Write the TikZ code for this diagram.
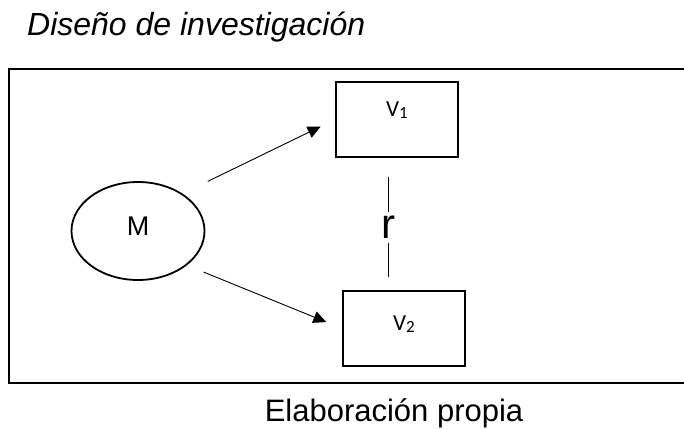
\documentclass[tikz,border=0pt]{standalone}
\usepackage{fontspec}
\setmainfont{Liberation Sans}
\newfontfamily\boxfont{Carlito}
\usetikzlibrary{arrows.meta,shapes.geometric}
\newcommand{\varname}[2]{#1{\fontsize{17}{18}\selectfont\raisebox{-2.6pt}{#2}}}
\tikzset{
  varbox/.style={draw, line width=1.8pt, minimum width=122pt, minimum height=75pt, inner sep=0pt,
    font=\boxfont\fontsize{23}{26}\selectfont},
  flecha/.style={-{Triangle[length=13pt,width=12pt]}, line width=0.9pt},
  enlace/.style={line width=0.9pt}
}
\begin{document}
\begin{tikzpicture}[x=1pt,y=-1pt]
  \useasboundingbox (0,0) rectangle (684,428);
  \node[anchor=base west, inner sep=0pt, font=\itshape\fontsize{32}{36}\selectfont] (titulo) at (27,36) {Diseño de investigación};
  \draw[line width=2.2pt] (9,69) rectangle (700,383);
  \node[ellipse, draw, line width=1.8pt, minimum width=133pt, minimum height=98pt, inner sep=0pt,
    text depth=10pt, font=\fontsize{27}{30}\selectfont] (M) at (138,231) {M};
  \node[varbox, text depth=21pt] (V1) at (397,119.5) {\varname{V}{1}};
  \node[varbox, text depth=11pt] (V2) at (404,328.5) {\varname{V}{2}};
  \node[inner sep=0pt, minimum height=31pt, font=\fontsize{42}{44}\selectfont] (r) at (388,227.5) {r};
  \draw[flecha, shorten <=28pt, shorten >=16pt] (M.40) -- (V1.west);
  \draw[flecha, shorten <=18pt, shorten >=17pt] (M.-35) -- (V2.west);
  \draw[enlace, shorten >=19pt] (r.north) -- (r.north |- V1.south);
  \draw[enlace, shorten >=13pt] (r.south) -- (r.south |- V2.north);
  \node[anchor=base, inner sep=0pt, font=\fontsize{31}{34}\selectfont] (fuente) at (394,421) {Elaboración propia};
\end{tikzpicture}
\end{document}
